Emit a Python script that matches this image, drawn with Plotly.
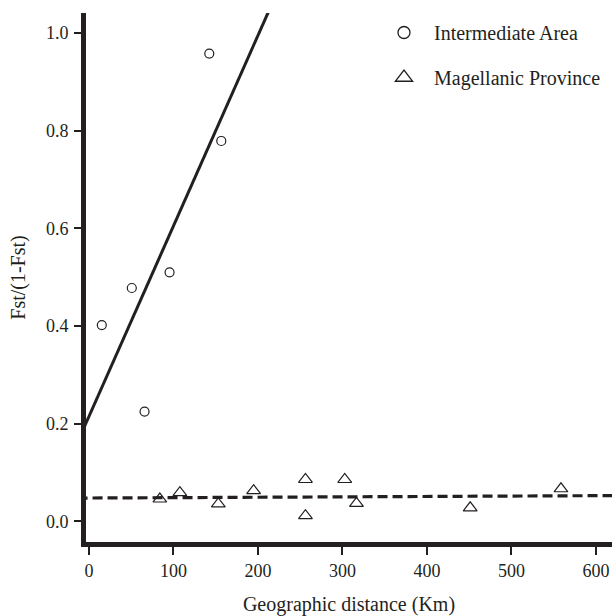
import plotly.graph_objects as go

# Intermediate Area (circles)
ia_dist = [15.2, 50.7, 65.8, 95.4, 142.4, 156.6]
ia_fst = [0.402, 0.478, 0.225, 0.510, 0.958, 0.779]

# Magellanic Province (triangles)
mp_dist = [83.9, 107.6, 153.1, 194.9, 256.2, 256.2, 302.7, 316.6, 451.2, 558.6]
mp_fst = [0.046, 0.059, 0.036, 0.063, 0.086, 0.012, 0.086, 0.037, 0.028, 0.067]

# Regression lines (intercept, slope)
ia_fit = (0.215, 0.0039)
mp_fit = (0.048, 0.0000081)

x_range = [-3.5, 619]
y_range = [-0.042, 1.041]
x_ticks = [0, 100, 200, 300, 400, 500, 600]
y_ticks = [0.0, 0.2, 0.4, 0.6, 0.8, 1.0]
y_ticklabels = ["0.0", "0.2", "0.4", "0.6", "0.8", "1.0"]

INK = "#231f20"
FONT = "Liberation Serif"

line_x = [x_range[0] - 10, x_range[1] + 10]

fig = go.Figure()
fig.add_trace(go.Scatter(
    x=line_x, y=[ia_fit[0] + ia_fit[1] * v for v in line_x],
    mode="lines", line=dict(color=INK, width=3), showlegend=False, hoverinfo="skip"))
fig.add_trace(go.Scatter(
    x=line_x, y=[mp_fit[0] + mp_fit[1] * v for v in line_x],
    mode="lines", line=dict(color=INK, width=3.2, dash="10px,5px"), showlegend=False, hoverinfo="skip"))
fig.add_trace(go.Scatter(
    x=ia_dist, y=ia_fst, mode="markers", showlegend=False,
    marker=dict(symbol="circle-open", size=9, color=INK, line=dict(width=1.2, color=INK))))
fig.add_trace(go.Scatter(
    x=mp_dist, y=mp_fst, mode="markers", showlegend=False,
    marker=dict(symbol="triangle-up-open", size=12, color=INK, line=dict(width=1.2, color=INK))))
# legend entries
fig.add_trace(go.Scatter(
    x=[None], y=[None], mode="markers", name="Intermediate Area", legendgroup="a",
    marker=dict(symbol="circle-open", size=12, color=INK, line=dict(width=1.3, color=INK))))
fig.add_trace(go.Scatter(
    x=[None], y=[None], mode="markers", name="Magellanic Province", legendgroup="b",
    marker=dict(symbol="triangle-up-open", size=15, color=INK, line=dict(width=1.3, color=INK))))

fig.update_layout(
    width=612, height=616,
    margin=dict(l=86, r=0, t=13, b=74),
    paper_bgcolor="white", plot_bgcolor="white",
    font=dict(family=FONT, size=20, color=INK),
    legend=dict(x=0.5475, y=1.0, xanchor="left", yanchor="top",
                traceorder="grouped", tracegroupgap=16, itemwidth=50,
                bgcolor="rgba(0,0,0,0)", font=dict(family=FONT, size=20, color=INK)),
    xaxis=dict(range=x_range, tickvals=x_ticks, showgrid=False, zeroline=False,
               showline=True, linewidth=5, linecolor=INK, automargin=False,
               ticks="outside", ticklen=8, tickwidth=1.5, tickcolor=INK,
               ticklabelstandoff=0, tickfont=dict(size=18),
               title=dict(text="Geographic distance (Km)", standoff=21, font=dict(size=20, color=INK))),
    yaxis=dict(range=y_range, tickvals=y_ticks, ticktext=y_ticklabels, showgrid=False, zeroline=False,
               showline=True, linewidth=5, linecolor=INK, automargin=False,
               ticks="outside", ticklen=7, tickwidth=1.5, tickcolor=INK,
               ticklabelstandoff=2, tickfont=dict(size=18),
               title=dict(text="Fst/(1-Fst)", standoff=16, font=dict(size=20, color=INK))),
)

# remove the page's default body margin so the 612x616 figure fills the window exactly
fig.write_html(
    "out.html",
    config={"displayModeBar": False},
    post_script="document.body.style.margin='0';document.documentElement.style.overflow='hidden';document.body.style.overflow='hidden';",
)
